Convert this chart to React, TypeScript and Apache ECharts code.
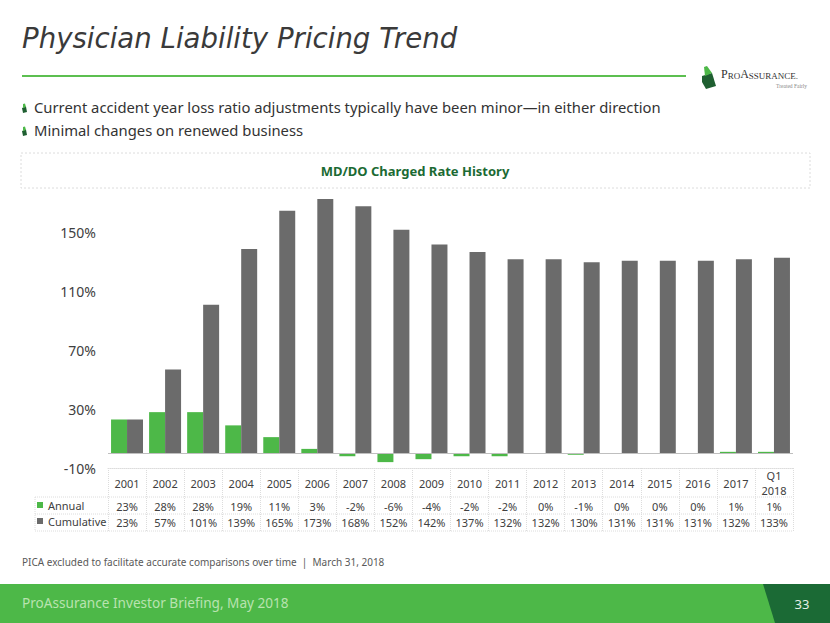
import React, { useEffect, useRef } from "react";
import * as echarts from "echarts";

const categories = ["2001", "2002", "2003", "2004", "2005", "2006", "2007", "2008", "2009", "2010", "2011", "2012", "2013", "2014", "2015", "2016", "2017", "Q1\n2018"];
const annual = [23, 28, 28, 19, 11, 3, -2, -6, -4, -2, -2, 0, -1, 0, 0, 0, 1, 1];
const cumulative = [23, 57, 101, 139, 165, 173, 168, 152, 142, 137, 132, 132, 130, 131, 131, 131, 132, 133];
const yTicks = { min: -10, max: 190, interval: 40 };

const GREEN = "#4db848";
const GRAY = "#6b6b6b";
const DARK_GREEN = "#1b6a33";
const TXT = "#404040";
const BORDER = "#dcdcdc";
const SANS = "'Noto Sans', sans-serif";

export default function App() {
  const ref = useRef<HTMLDivElement>(null);
  useEffect(() => {
    if (!ref.current) return;
    const chart = echarts.init(ref.current, null, { renderer: "svg", width: 830, height: 623 });
    const labelBase = {
      interval: 0,
      verticalAlign: "middle" as const,
      fontSize: 11,
      lineHeight: 11,
      color: TXT,
      fontFamily: SANS,
    };
    const hidden = { show: false };
    const option: any = {
      animation: false,
      backgroundColor: "#ffffff",
      textStyle: { fontFamily: SANS },
      grid: { left: 108, right: 37, top: 174, bottom: 155, containLabel: false },
      legend: {
        orient: "vertical",
        left: 32,
        top: 494,
        itemWidth: 6,
        itemHeight: 6,
        itemGap: 4,
        icon: "rect",
        textStyle: { fontSize: 11, lineHeight: 12, color: TXT, fontFamily: SANS },
        data: ["Annual", "Cumulative"],
      },
      xAxis: [
        {
          type: "category",
          data: categories,
          position: "bottom",
          axisLine: { onZero: false, lineStyle: { color: BORDER, type: "dotted" } },
          axisTick: { show: true, length: 63, lineStyle: { color: BORDER, type: "dotted" } },
          axisLabel: { ...labelBase, lineHeight: 15, margin: 15 },
        },
        {
          type: "category",
          data: annual.map((v) => v + "%"),
          position: "bottom",
          axisLine: { onZero: false, show: false },
          axisTick: hidden,
          axisLabel: { ...labelBase, margin: 38 },
        },
        {
          type: "category",
          data: cumulative.map((v) => v + "%"),
          position: "bottom",
          axisLine: { onZero: false, show: false },
          axisTick: hidden,
          axisLabel: { ...labelBase, margin: 54 },
        },
      ],
      yAxis: {
        type: "value",
        min: yTicks.min,
        max: yTicks.max,
        interval: yTicks.interval,
        axisLine: hidden,
        axisTick: hidden,
        splitLine: hidden,
        axisLabel: {
          formatter: "{value}%",
          showMaxLabel: false,
          margin: 12,
          fontSize: 14,
          color: TXT,
          fontFamily: SANS,
        },
      },
      series: [
        {
          name: "Annual",
          type: "bar",
          data: annual,
          itemStyle: { color: GREEN },
          barGap: "0%",
          barCategoryGap: "16%",
          markLine: {
            silent: true,
            symbol: ["none", "none"],
            label: { show: false },
            lineStyle: { color: "#bfbfbf", type: "solid", width: 1 },
            data: [{ yAxis: 0 }],
          },
        },
        {
          name: "Cumulative",
          type: "bar",
          data: cumulative,
          itemStyle: { color: GRAY },
          barGap: "0%",
          barCategoryGap: "16%",
        },
      ],
      graphic: [
        // title
        {
          type: "text",
          left: 22,
          top: 24,
          style: {
            text: "Physician Liability Pricing Trend",
            fontSize: 27.6,
            fontStyle: "italic",
            fontFamily: "'DejaVu Sans', sans-serif",
            fill: "#3a3a3a",
          },
        },
        { type: "line", shape: { x1: 22, y1: 76, x2: 686, y2: 76 }, style: { stroke: "#5cbf50", lineWidth: 2 } },
        // logo
        { type: "polygon", shape: { points: [[702, 76], [712, 73], [716, 86], [706, 89], [702, 82]] }, style: { fill: "#1f5f31" } },
        { type: "polygon", shape: { points: [[704, 67], [707, 66], [712, 73], [705, 76]] }, style: { fill: GREEN } },
        {
          type: "text",
          left: 721,
          top: 68,
          style: {
            rich: {
              b: { fontSize: 12, fontFamily: "'Liberation Serif', serif", fill: "#333", verticalAlign: "bottom" },
              s: { fontSize: 9, fontFamily: "'Liberation Serif', serif", fill: "#333", verticalAlign: "bottom" },
            },
            text: "{b|P}{s|RO}{b|A}{s|SSURANCE.}",
          },
        },
        {
          type: "text",
          left: 776,
          top: 83,
          style: { text: "Treated Fairly", fontSize: 5.5, fontFamily: "'Liberation Serif', serif", fill: "#888" },
        },
        // bullets
        { type: "polygon", shape: { points: [[22, 108], [26, 106.5], [27, 112], [23, 113]] }, style: { fill: "#1f5f31" } },
        { type: "polygon", shape: { points: [[23, 104], [25, 103.5], [26, 107], [23, 108]] }, style: { fill: GREEN } },
        { type: "polygon", shape: { points: [[22, 131], [26, 129.5], [27, 135], [23, 136]] }, style: { fill: "#1f5f31" } },
        { type: "polygon", shape: { points: [[23, 127], [25, 126.5], [26, 130], [23, 131]] }, style: { fill: GREEN } },
        {
          type: "text",
          left: 34,
          top: 99,
          style: {
            text: "Current accident year loss ratio adjustments typically have been minor\u2014in either direction",
            fontSize: 14.8,
            fontFamily: SANS,
            fill: "#333",
          },
        },
        {
          type: "text",
          left: 34,
          top: 122,
          style: { text: "Minimal changes on renewed business", fontSize: 14.8, fontFamily: SANS, fill: "#333" },
        },
        // chart header
        {
          type: "rect",
          shape: { x: 21, y: 153, width: 789, height: 35 },
          style: { fill: "none", stroke: BORDER, lineWidth: 1, lineDash: [2, 2] },
        },
        {
          type: "text",
          x: 415,
          y: 171,
          style: {
            text: "MD/DO Charged Rate History",
            fontSize: 13,
            fontWeight: "bold",
            fontFamily: SANS,
            fill: DARK_GREEN,
            align: "center",
            verticalAlign: "middle",
          },
        },
        // table borders
        { type: "line", shape: { x1: 35, y1: 497, x2: 793, y2: 497 }, style: { stroke: BORDER, lineDash: [1, 1] } },
        { type: "line", shape: { x1: 35, y1: 514, x2: 793, y2: 514 }, style: { stroke: BORDER, lineDash: [1, 1] } },
        { type: "line", shape: { x1: 35, y1: 531, x2: 793, y2: 531 }, style: { stroke: BORDER, lineDash: [1, 1] } },
        { type: "line", shape: { x1: 35, y1: 497, x2: 35, y2: 531 }, style: { stroke: BORDER, lineDash: [1, 1] } },
        // footnote
        {
          type: "text",
          left: 22,
          top: 557,
          style: {
            text: "PICA excluded to facilitate accurate comparisons over time  |  March 31, 2018",
            fontSize: 10,
            fontFamily: SANS,
            fill: "#595959",
          },
        },
        // footer bar
        { type: "rect", shape: { x: 0, y: 584, width: 830, height: 39 }, style: { fill: GREEN } },
        { type: "polygon", shape: { points: [[763, 584], [830, 584], [830, 623], [775, 623]] }, style: { fill: "#1b6a35" } },
        {
          type: "text",
          left: 22,
          top: 595,
          style: { text: "ProAssurance Investor Briefing, May 2018", fontSize: 13.6, fontFamily: SANS, fill: "#b9e3b0" },
        },
        {
          type: "text",
          x: 802,
          y: 604,
          style: { text: "33", fontSize: 13, fontFamily: SANS, fill: "#e6efe6", align: "center", verticalAlign: "middle" },
        },
      ],
    };
    chart.setOption(option);
    return () => chart.dispose();
  }, []);
  return (
    <div style={{ position: "fixed", left: 0, top: 0, width: 830, height: 623, background: "#fff" }}>
      <div ref={ref} style={{ width: 830, height: 623 }} />
    </div>
  );
}
